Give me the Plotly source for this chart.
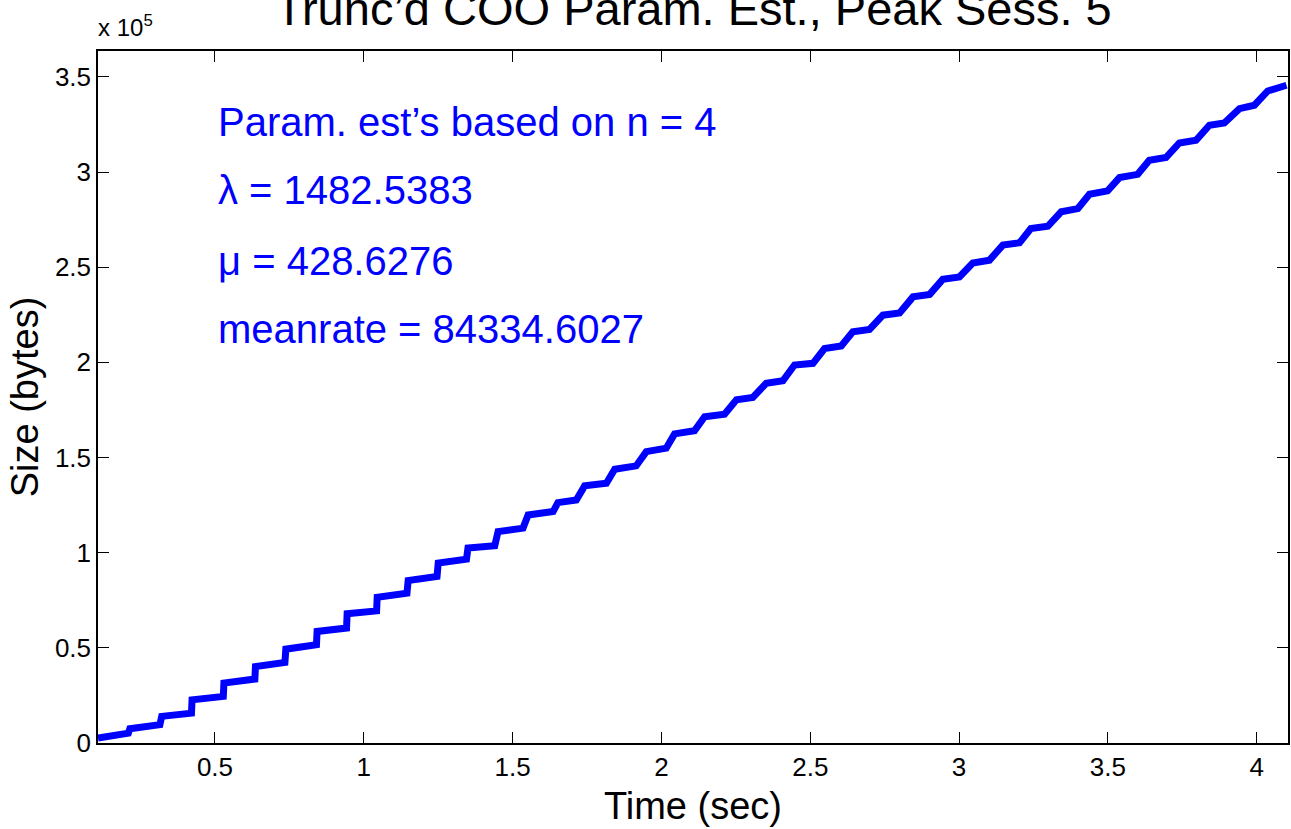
import plotly.graph_objects as go

# Cumulative size curve (vertices)
time_s = [0.107, 0.209, 0.214, 0.315, 0.321, 0.421, 0.423, 0.528, 0.530, 0.634,
          0.636, 0.735, 0.738, 0.841, 0.843, 0.942, 0.944, 1.043, 1.045, 1.145,
          1.149, 1.246, 1.250, 1.345, 1.350,
          1.440, 1.451, 1.535, 1.552, 1.636, 1.652, 1.714, 1.742, 1.815, 1.843,
          1.915, 1.949, 2.016, 2.044, 2.111, 2.145, 2.212, 2.252, 2.307, 2.352,
          2.408, 2.447, 2.509, 2.548, 2.604, 2.643, 2.699, 2.744, 2.800, 2.845,
          2.901, 2.945, 3.001, 3.046, 3.102, 3.147, 3.203, 3.241, 3.298, 3.343,
          3.399, 3.438, 3.499, 3.539, 3.600, 3.639, 3.695, 3.740, 3.796, 3.841,
          3.891, 3.942, 3.992, 4.037, 4.100]
size_bytes = [2600, 5200, 7500, 9600, 14000, 15700, 22700, 24500, 31500, 33600,
              40200, 42300, 49300, 51600, 58600, 60400, 67900, 69400, 76600, 78700,
              85400, 87500, 94500, 96600, 102400,
              103600, 111100, 112900, 119800, 121600, 126300, 127700, 135100, 136500, 143800,
              145600, 153100, 154900, 162400, 164100, 171400, 172800, 180400, 181600, 189000,
              190300, 198600, 199500, 207300, 208600, 216100, 217300, 224800, 226000, 234400,
              235700, 243600, 244900, 252200, 253700, 261600, 262800, 270300, 271500, 279100,
              280800, 288300, 290100, 297100, 298800, 306200, 307600, 315300, 316700, 324600,
              325800, 333300, 335100, 342600, 345600]

x_tick_vals = [0.5, 1, 1.5, 2, 2.5, 3, 3.5, 4]
x_tick_text = ["0.5", "1", "1.5", "2", "2.5", "3", "3.5", "4"]
y_tick_vals = [0, 50000, 100000, 150000, 200000, 250000, 300000, 350000]
y_tick_text = ["0", "0.5", "1", "1.5", "2", "2.5", "3", "3.5"]

title_text = "Trunc\u2019d COO Param. Est., Peak Sess. 5"
x_label = "Time (sec)"
y_label = "Size (bytes)"
param_lines = ["Param. est\u2019s based on n = 4",
               "\u03bb = 1482.5383",
               "\u03bc = 428.6276",
               "meanrate = 84334.6027"]
param_y = [326200, 290500, 253100, 217600]
param_x = 0.505

FONT = "Liberation Sans, Arial, Helvetica, sans-serif"

fig = go.Figure()
fig.add_trace(go.Scatter(x=time_s, y=size_bytes, mode="lines",
                         line=dict(color="#0000FF", width=7),
                         showlegend=False, hoverinfo="skip"))

axis_common = dict(showgrid=False, zeroline=False, showline=True, linecolor="black",
                   linewidth=1.5, mirror="ticks", ticks="inside", ticklen=11,
                   tickwidth=1, tickcolor="black", automargin=False,
                   tickfont=dict(family=FONT, size=26, color="black"))

fig.update_xaxes(range=[0.107, 4.105], tickmode="array", tickvals=x_tick_vals,
                 ticktext=x_tick_text,
                 title=dict(text=x_label, font=dict(family=FONT, size=38, color="black"),
                            standoff=11),
                 **axis_common)
fig.update_yaxes(range=[0, 363600], tickmode="array", tickvals=y_tick_vals,
                 ticktext=y_tick_text,
                 title=dict(text=y_label, font=dict(family=FONT, size=38, color="black"),
                            standoff=5),
                 **axis_common)

for txt, yy in zip(param_lines, param_y):
    fig.add_annotation(x=param_x, y=yy, xref="x", yref="y", text=txt,
                       showarrow=False, xanchor="left", yanchor="middle",
                       font=dict(family=FONT, size=40, color="#0000FF"))

fig.add_annotation(x=0, y=1, xref="paper", yref="paper", text="x 10<sup>5</sup>",
                   showarrow=False, xanchor="left", yanchor="bottom", yshift=8, xshift=-2,
                   font=dict(family=FONT, size=24, color="black"))

fig.add_annotation(x=0.5, y=1, xref="paper", yref="paper", text=title_text,
                   showarrow=False, xanchor="center", yanchor="bottom", yshift=14,
                   font=dict(family=FONT, size=47, color="black"))

fig.update_layout(width=1291, height=829,
                  margin=dict(l=98, r=3, t=51, b=86),
                  paper_bgcolor="white", plot_bgcolor="white",
                  font=dict(family=FONT, color="black"))

fig.write_html("out.html", config={"displayModeBar": False},
               post_script="document.body.style.margin='0px';")
